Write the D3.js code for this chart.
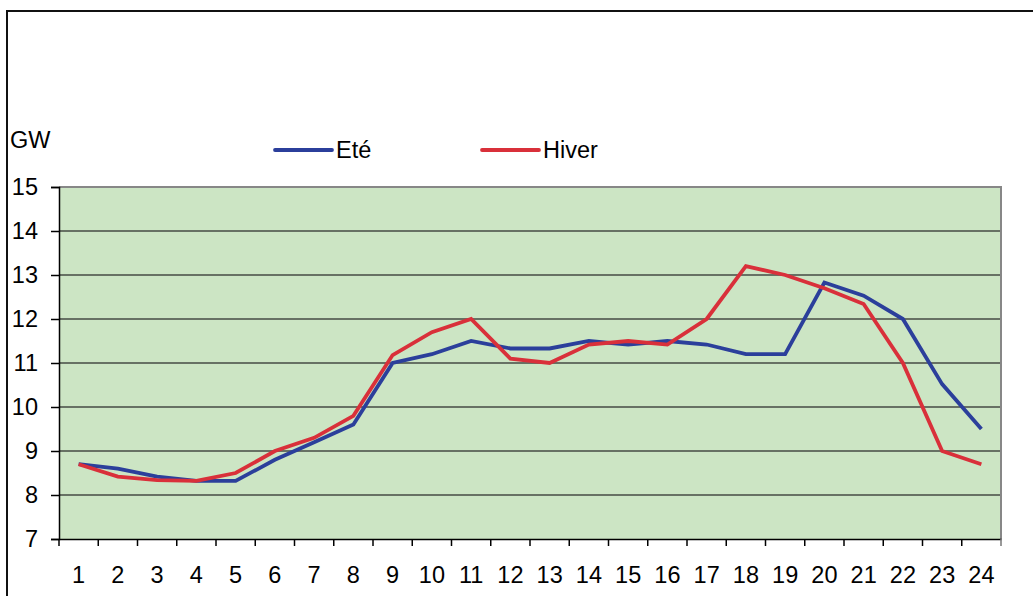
<!DOCTYPE html>
<html>
<head>
<meta charset="utf-8">
<script src="https://cdn.jsdelivr.net/npm/d3@7"></script>
<style>
  body { margin: 0; background: #fff; }
  svg { display: block; font-family: "Liberation Sans", Arial, sans-serif; }
</style>
</head>
<body>
<svg width="1033" height="596"></svg>
<script>
// hours of the day
const hours = d3.range(1, 25);
// load in GW
const ete = [8.7, 8.6, 8.42, 8.32, 8.32, 8.8, 9.2, 9.6, 11.0, 11.2, 11.5, 11.33,
             11.33, 11.5, 11.42, 11.5, 11.42, 11.2, 11.2, 12.83, 12.53, 12.0, 10.52, 9.5];
const hiver = [8.7, 8.42, 8.34, 8.32, 8.5, 9.0, 9.3, 9.8, 11.18, 11.7, 12.0, 11.1,
               11.0, 11.42, 11.5, 11.42, 12.0, 13.2, 13.0, 12.7, 12.34, 11.0, 9.0, 8.7];
const yTicks = [7, 8, 9, 10, 11, 12, 13, 14, 15];
const seriesNames = ["Eté", "Hiver"];
const seriesColors = ["#2b3f9b", "#d9303a"];

const svg = d3.select("svg");
const pLeft = 59, pRight = 1001, pTop = 187, pBottom = 539;
const fs = 23.5;

// outer frame (right and bottom run off the picture)
svg.append("path").attr("d", "M7,596V11H1040").attr("fill", "none")
  .attr("stroke", "#111").attr("stroke-width", 2);

const x = d3.scaleBand().domain(hours).range([pLeft, pRight]);
const y = d3.scaleLinear().domain([7, 15]).range([pBottom, pTop]);

// plot area
svg.append("rect").attr("x", pLeft).attr("y", pTop).attr("width", pRight - pLeft).attr("height", pBottom - pTop)
  .attr("fill", "#cce5c4");

// gridlines
svg.append("g").selectAll("line").data(yTicks.filter(d => d > 7 && d < 15)).enter().append("line")
  .attr("x1", pLeft).attr("x2", pRight).attr("y1", d => y(d)).attr("y2", d => y(d))
  .attr("stroke", "#464a44").attr("stroke-width", 1.5);

// top and right edge of plot
svg.append("path").attr("d", `M${pLeft},${pTop}H${pRight}V${pBottom}`).attr("fill", "none")
  .attr("stroke", "#878787").attr("stroke-width", 2);

// y axis
const yAxis = d3.axisLeft(y).tickValues(yTicks).tickSize(8).tickPadding(13);
svg.append("g").attr("transform", `translate(${pLeft},0)`).call(yAxis)
  .call(g => g.selectAll("text").attr("font-size", fs).attr("fill", "#000").attr("font-family", null))
  .call(g => g.selectAll("line,path").attr("stroke", "#000").attr("stroke-width", 1.5));

// x axis with ticks between categories
const xAxis = d3.axisBottom(x).tickSize(0).tickPadding(27);
const xg = svg.append("g").attr("transform", `translate(0,${pBottom})`).call(xAxis);
xg.selectAll("text").attr("font-size", fs).attr("fill", "#000").attr("font-family", null);
xg.select(".domain").attr("stroke", "#000").attr("stroke-width", 1.5);
xg.selectAll(".sep").data(d3.range(0, 25)).enter().append("line").attr("class", "sep")
  .attr("x1", i => pLeft + i * x.step()).attr("x2", i => pLeft + i * x.step())
  .attr("y1", 0).attr("y2", 7).attr("stroke", i => i === 24 ? "#777" : "#000").attr("stroke-width", 1.5);

// GW label
svg.append("text").attr("x", 10).attr("y", 148).attr("font-size", fs).text("GW");

// lines
const line = d3.line().x((d, i) => x(hours[i]) + x.bandwidth() / 2).y(d => y(d));
[ete, hiver].forEach((s, k) => {
  svg.append("path").datum(s).attr("d", line).attr("fill", "none")
    .attr("stroke", seriesColors[k]).attr("stroke-width", 3.8).attr("stroke-linejoin", "miter");
});

// legend
const legendX = [275, 482];
seriesNames.forEach((n, k) => {
  svg.append("line").attr("x1", legendX[k]).attr("x2", legendX[k] + 57).attr("y1", 150).attr("y2", 150)
    .attr("stroke", seriesColors[k]).attr("stroke-width", 3.8).attr("stroke-linecap", "round");
  svg.append("text").attr("x", legendX[k] + 61).attr("y", 158).attr("font-size", fs).text(n);
});
</script>
</body>
</html>
